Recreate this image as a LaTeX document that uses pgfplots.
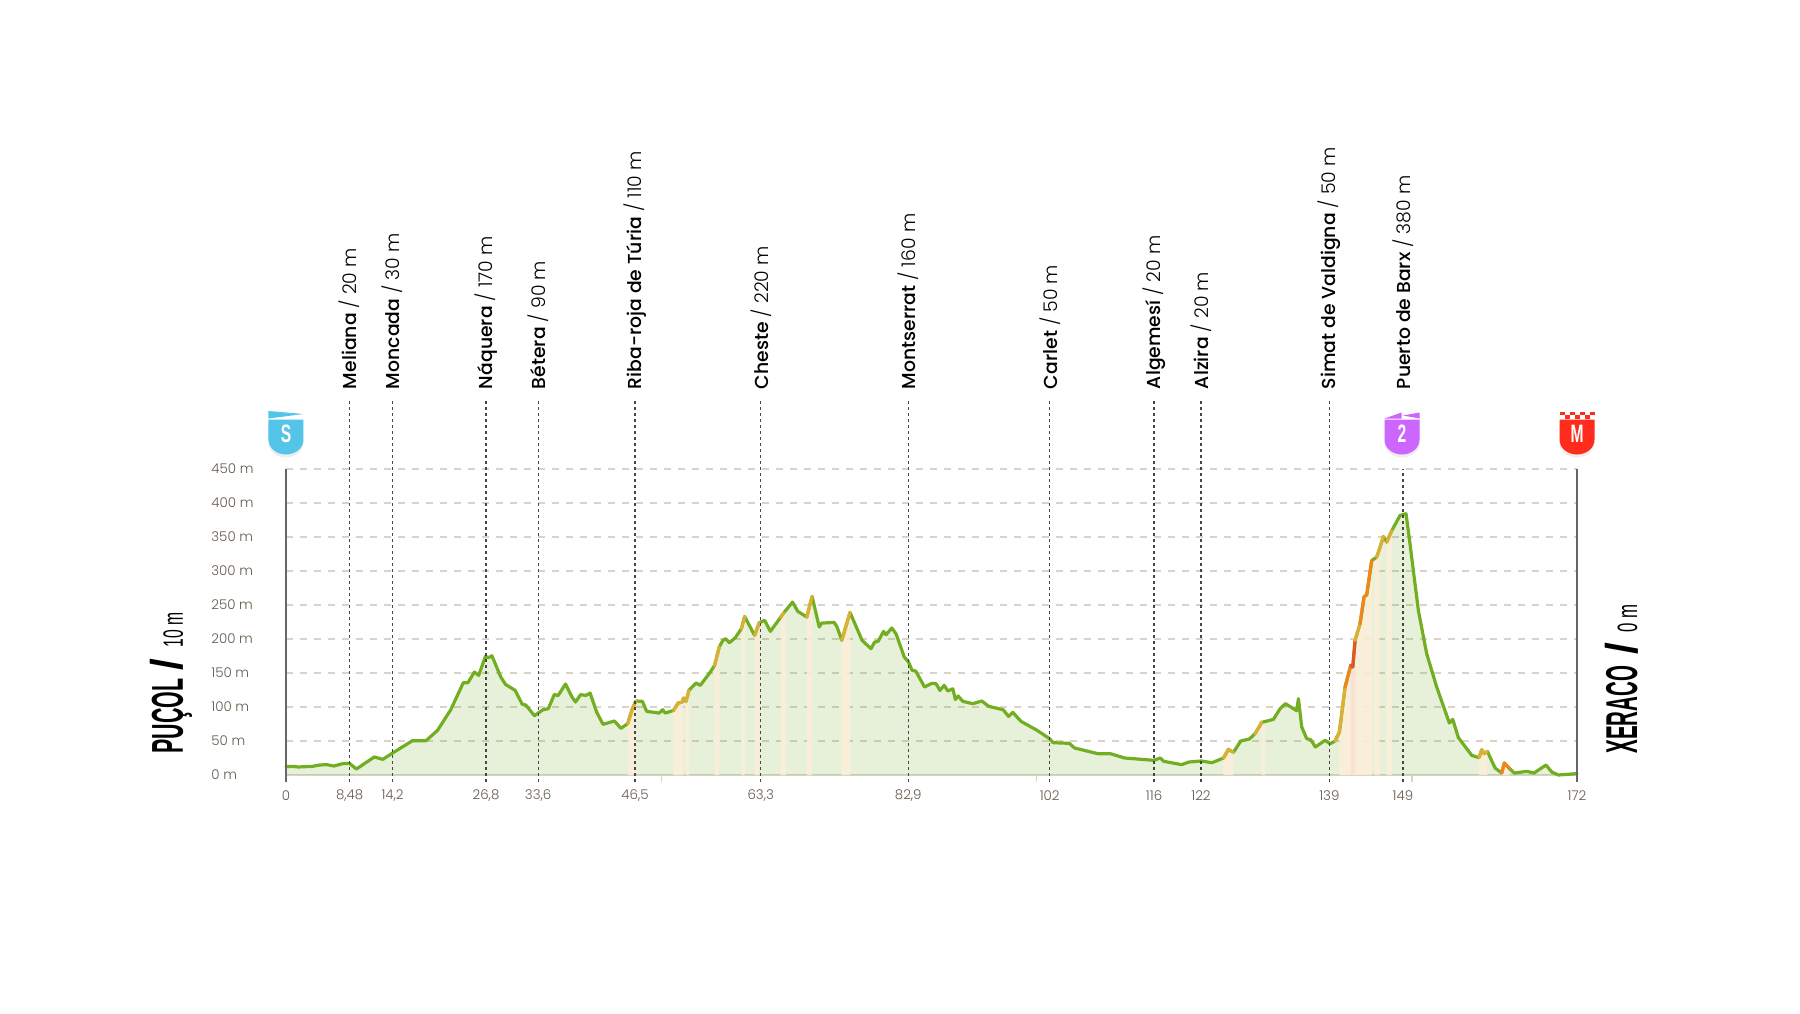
\documentclass[border=0pt]{standalone}
\usepackage{fontspec}
\usepackage{pgfplots}
\usepackage{pgfplotstable}
\pgfplotsset{compat=1.18}
\usetikzlibrary{shadows}
\setmainfont{Poppins}
\newfontfamily\cond{Liberation Sans}
\newfontfamily\tickf{Poppins Light}
\newfontfamily\namef{Poppins Medium}
\definecolor{prof}{HTML}{72AE22}
\definecolor{yel}{HTML}{DDB035}
\definecolor{ora}{HTML}{F0851A}
\definecolor{redd}{HTML}{E2552B}
\definecolor{band}{HTML}{FCEFD9}
\definecolor{bandp}{HTML}{FAE0D2}
\definecolor{gridc}{HTML}{D9D3C9}
\definecolor{tickc}{HTML}{65594D}
\definecolor{bS}{HTML}{55C4E9}
\definecolor{bD}{HTML}{CC66FF}
\definecolor{bM}{HTML}{FF2B1C}
\pgfplotstableread{
km el
0 12.3
0.9 12.7
1.62 11.8
3.52 12.7
4.48 14.7
5.43 15.2
6.38 13.2
7.57 16.7
8.43 17.2
9.38 8.8
11.76 26.5
12.9 23
14.14 31.9
16.86 50.5
18.67 50.5
20.19 65.7
21.95 96
23.62 135.7
24.24 135.7
25.1 151.4
25.67 146.5
26.57 174.4
27 172.5
27.43 175.4
28.62 144
29.24 133.3
30.52 124.5
31.48 103.9
31.95 102.9
33.1 87.2
34.24 96
34.95 97.5
35.76 118.6
36.24 116.6
37.24 133.8
38.1 114.7
38.57 107.3
39.24 118.1
39.95 117.1
40.52 120.5
41.38 92.6
42.24 74.5
43.76 79.4
44.62 68.6
45.52 75.5
46.14 97.5
46.62 108.8
47.48 108.3
48.05 93.6
49.71 91.1
50.19 96
50.52 91.1
51.62 95
52.24 105.8
52.8 107.3
52.95 113.2
53.29 108.3
53.68 124.5
54.63 135.2
55.2 131.8
56.53 151.4
57.1 161.2
57.72 188.2
58.2 198
58.58 200.4
59.06 194.5
59.86 201.9
60.67 215.1
61.1 233.2
62.43 205.3
63.05 223.9
63.77 227.4
64.53 211.2
65.9 232
66.29 238.1
66.6 242.3
67.48 254.3
68.19 240.6
69.38 232.3
70.09 262.6
71.04 217.6
71.38 223.4
73.04 224.4
73.42 217.6
74.04 198
75.14 239.1
76.75 198
77.94 185.7
78.42 195.5
78.89 196.5
79.61 211.2
79.94 206.3
80.7 216.1
81.27 207.8
82.37 173.5
82.94 166.1
83.41 153.9
83.89 152.9
85.08 129.4
86.03 134.8
86.6 134.3
87.12 124.5
87.69 131.8
88.17 123.5
88.84 126.9
89.17 111.2
89.55 116.1
90.17 108.3
91.5 104.9
92.69 108.8
93.64 100.9
95.54 96
96.26 86.2
96.83 92.1
97.92 78.9
100.06 65.7
101.73 53.4
102.2 47.5
104.35 46.6
105.06 39.7
108.15 31.4
109.82 31.4
111.72 25
115.62 21.6
116.48 25
116.95 20.1
119.33 15.2
120.28 19.1
121.95 20.6
123.37 18.1
124.89 25
125.55 37.7
126.22 33.3
127.2 50
128.35 52.9
129.1 60.8
130 77.4
130.4 78.5
131.55 81.8
132.44 97.5
133.15 104.9
134.65 94.6
134.88 112.2
135.32 70.6
135.99 53.4
136.52 51.9
137.14 41.2
138.43 51
139.1 46
139.76 50
140.34 63.2
141.1 129.4
141.85 161.2
142.12 158.8
142.43 198
143.09 222.5
143.62 261.7
143.98 265.1
144.65 315.6
145 318
145.31 320.5
145.7 333
146.2 350.8
146.64 342.5
147.3 359
148.42 381.7
149.22 384.2
149.75 339.6
150.86 242
151.97 178.4
153.3 129.4
154.99 76.4
155.44 81.8
156.19 54.9
157.97 28.9
158.94 25.5
159.3 37.2
159.61 31.4
160.05 34.8
161.08 10.3
161.96 2.9
162.32 17.6
163 9.5
163.65 2.9
165.3 5.4
166.27 2.9
167.87 14.7
168.63 4.4
169.51 0
172 2
}\prof
\pgfplotsset{
 seg/.style={line width=1.6bp,line join=round,line cap=round},
 dot/.style={draw=black!72,line width=0.6bp,dash pattern=on 1.5bp off 1.5bp},
}
\newcommand{\Seg}[3]{\addplot[seg,color=#3,restrict x to domain=#1:#2] table {\prof};}
\newcommand{\Band}[3]{\addplot[draw=none,fill=#3,fill opacity=0.85,restrict x to domain=#1:#2] table {\prof} \closedcycle;}
\newcommand{\Town}[4]{%
 \addplot[dot] coordinates {(#1,-10) (#1,#4)};
 \node[rotate=90,anchor=west,inner sep=0pt,font=\fontsize{9.4bp}{11bp}\selectfont] at (axis cs:#1,567) {{\namef #2} {\tickf / #3 m}};}
\newcommand{\Shield}[4]{% x-centre (px), colour, letter, top decoration
 \begin{scope}[shift={(#1,355.5)}]
  \fill[#2,drop shadow={opacity=0.14,shadow xshift=0pt,shadow yshift=-1.5pt}] (-17.5,0)--(17.5,0)--(17.5,-20) .. controls (17.5,-29) and (9,-35) .. (0,-35) .. controls (-9,-35) and (-17.5,-29) .. (-17.5,-20)--cycle;
  #4
  \node[white,inner sep=0pt] at (0,-14.5) {\scalebox{0.62}[1]{\cond\bfseries\fontsize{12.6bp}{13bp}\selectfont #3}};
 \end{scope}}
\begin{document}
\begin{tikzpicture}[x=0.5bp,y=0.5bp]
\useasboundingbox (-286,-238) rectangle (1514,775);
\begin{axis}[
 scale only axis,width=645.5bp,height=153bp,
 at={(0,0)},anchor=south west,
 xmin=0,xmax=172,ymin=0,ymax=450,clip=false,
 axis x line=bottom,axis y line=left,
 x axis line style={-,draw=gridc,line width=0.6bp},
 y axis line style={-,draw=none},
 xtick={0,8.48,14.2,26.65,33.6,46.5,63.25,82.9,101.75,115.65,121.9,139,148.8,172},
 xticklabels={0,{8,48},{14,2},{26,8},{33,6},{46,5},{63,3},{82,9},102,116,122,139,149,172},
 extra x ticks={50,100,150},extra x tick labels={},
 extra x tick style={major tick length=3.5bp,tick style={draw=gridc,line width=0.6bp},tick align=outside},
 ytick={0,50,...,450},
 yticklabels={0 m,50 m,100 m,150 m,200 m,250 m,300 m,350 m,400 m,450 m},
 ymajorgrids,
 grid style={draw=gridc,line width=0.6bp,dash pattern=on 3.5bp off 3.5bp},
 major tick length=0pt,
 ticklabel style={text=tickc,font=\tickf\fontsize{6.7bp}{8bp}\selectfont,inner sep=0pt},
 yticklabel style={anchor=west,xshift=-37.5bp},
 xticklabel style={anchor=center,yshift=-10.2bp},
]
\addplot[draw=none,fill=prof,fill opacity=0.17] table {\prof} \closedcycle;
\Band{45.5}{46.63}{band}
\Band{51.6}{52.96}{band}
\Band{53.28}{53.69}{band}
\Band{57.09}{57.73}{band}
\Band{60.66}{61.11}{band}
\Band{62.42}{63.06}{band}
\Band{65.89}{66.61}{band}
\Band{69.37}{70.1}{band}
\Band{74.03}{75.15}{band}
\Band{124.88}{126.23}{band}
\Band{129.99}{130.41}{band}
\Band{140.33}{144.66}{band}
\Band{141.84}{142.44}{bandp}
\Band{144.99}{145.71}{band}
\Band{146.63}{147.31}{band}
\Band{158.93}{160.06}{band}
\Band{161.95}{163.01}{band}
\addplot[seg,color=prof] table {\prof};
\Seg{45.5}{46.63}{yel}
\Seg{51.6}{52.96}{yel}
\Seg{53.28}{53.69}{yel}
\Seg{57.09}{57.73}{yel}
\Seg{60.66}{61.11}{yel}
\Seg{62.42}{63.06}{yel}
\Seg{65.89}{66.3}{yel}
\Seg{69.37}{70.1}{yel}
\Seg{74.03}{75.15}{yel}
\Seg{124.88}{126.23}{yel}
\Seg{129.09}{130.01}{yel}
\Seg{139.75}{141.11}{yel}
\Seg{141.09}{141.86}{ora}
\Seg{141.84}{142.44}{redd}
\Seg{142.42}{143.1}{yel}
\Seg{143.08}{144.66}{ora}
\Seg{145.3}{146.21}{yel}
\Seg{146.63}{147.31}{yel}
\Seg{158.93}{160.06}{yel}
\Seg{161.95}{163.01}{ora}
\addplot[draw=black!60,line width=0.9bp] coordinates {(0,-10) (0,450)};
\addplot[draw=black!60,line width=0.9bp] coordinates {(172,-10) (172,450)};
\Town{8.48}{Meliana}{20}{551}
\Town{14.2}{Moncada}{30}{551}
\Town{26.65}{Náquera}{170}{551}
\Town{33.6}{Bétera}{90}{551}
\Town{46.5}{Riba-roja de Túria}{110}{551}
\Town{63.25}{Cheste}{220}{551}
\Town{82.9}{Montserrat}{160}{551}
\Town{101.75}{Carlet}{50}{551}
\Town{115.65}{Algemesí}{20}{551}
\Town{121.9}{Alzira}{20}{551}
\Town{139}{Simat de Valdigna}{50}{551}
\Town{148.8}{Puerto de Barx}{380}{450}
\end{axis}
% end titles
\node[rotate=90,anchor=base west,inner sep=0pt] at (-103,21) {\scalebox{0.48}[1]{\cond\bfseries\fontsize{22.3bp}{24bp}\selectfont PUÇOL}};
\node[rotate=90,anchor=base west,inner sep=0pt] at (-103,104) {\scalebox{0.95}[1]{\cond\bfseries\fontsize{22.3bp}{24bp}\selectfont /}};
\node[rotate=90,anchor=base west,inner sep=0pt] at (-103,127) {\scalebox{0.56}[1]{\cond\fontsize{14bp}{15bp}\selectfont 10 m}};
\node[rotate=90,anchor=base west,inner sep=0pt] at (1351,21) {\scalebox{0.46}[1]{\cond\bfseries\fontsize{22.3bp}{24bp}\selectfont XERACO}};
\node[rotate=90,anchor=base west,inner sep=0pt] at (1351,120) {\scalebox{0.95}[1]{\cond\bfseries\fontsize{22.3bp}{24bp}\selectfont /}};
\node[rotate=90,anchor=base west,inner sep=0pt] at (1351,142) {\scalebox{0.6}[1]{\cond\fontsize{14bp}{15bp}\selectfont 0 m}};
% badges
\Shield{0}{bS}{S}{\fill[bS] (-17.5,8.5)--(17.5,5.5)--(-17.5,1)--cycle;}
\Shield{1116}{bD}{2}{\fill[bD] (-17.5,1)--(-0.5,7)--(-0.5,1)--cycle (1,4)--(17.5,7)--(17.5,1)--cycle;}
\Shield{1291}{bM}{M}{%
 \foreach \i in {0,2,4,6}{\fill[bM] ({-17.5+\i*5},4.5) rectangle ++(5,3.5);}
 \foreach \i in {1,3,5}{\fill[bM] ({-17.5+\i*5},1) rectangle ++(5,3.5);}}
\end{tikzpicture}
\end{document}
